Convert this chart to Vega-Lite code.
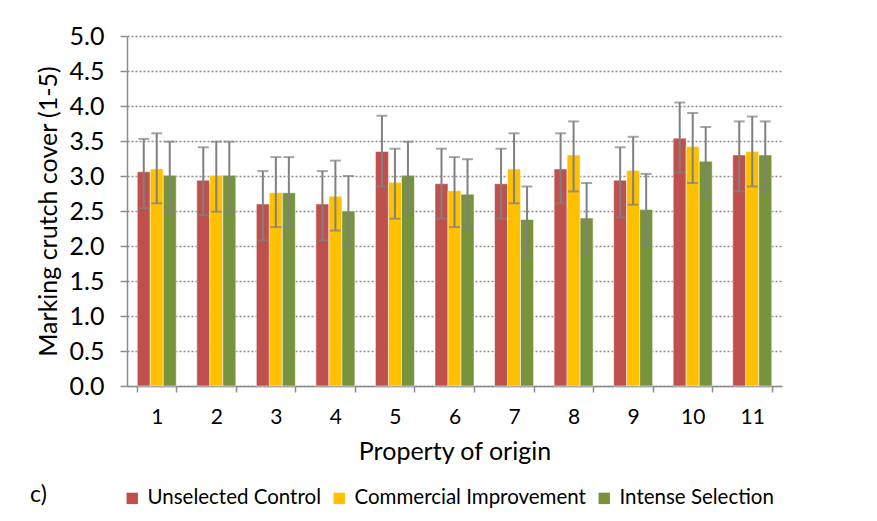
{
  "$schema": "https://vega.github.io/schema/vega-lite/v6.json",
  "autosize": {"type": "none"},
  "width": 655,
  "height": 350,
  "padding": {"left": 127, "top": 36, "right": 95, "bottom": 135},
  "background": "white",
  "title": {"text": "c)", "orient": "bottom", "anchor": "start", "frame": "bounds", "font": "Lato", "fontSize": 23, "fontWeight": "normal", "color": "#000000", "offset": -25, "dx": -6},
  "config": {
    "view": {"stroke": null},
    "font": "Lato"
  },
  "resolve": {"axis": {"y": "independent"}},
  "data": {
    "values": [
      {"prop": "1", "group": "Unselected Control", "mean": 3.06, "lo": 2.54, "hi": 3.53},
      {"prop": "1", "group": "Commercial Improvement", "mean": 3.10, "lo": 2.61, "hi": 3.61},
      {"prop": "1", "group": "Intense Selection", "mean": 3.01, "lo": 2.49, "hi": 3.49},
      {"prop": "2", "group": "Unselected Control", "mean": 2.94, "lo": 2.44, "hi": 3.41},
      {"prop": "2", "group": "Commercial Improvement", "mean": 3.01, "lo": 2.49, "hi": 3.49},
      {"prop": "2", "group": "Intense Selection", "mean": 3.01, "lo": 2.49, "hi": 3.49},
      {"prop": "3", "group": "Unselected Control", "mean": 2.60, "lo": 2.08, "hi": 3.07},
      {"prop": "3", "group": "Commercial Improvement", "mean": 2.76, "lo": 2.27, "hi": 3.27},
      {"prop": "3", "group": "Intense Selection", "mean": 2.76, "lo": 2.27, "hi": 3.27},
      {"prop": "4", "group": "Unselected Control", "mean": 2.60, "lo": 2.08, "hi": 3.07},
      {"prop": "4", "group": "Commercial Improvement", "mean": 2.71, "lo": 2.22, "hi": 3.22},
      {"prop": "4", "group": "Intense Selection", "mean": 2.50, "lo": 2.00, "hi": 3.00},
      {"prop": "5", "group": "Unselected Control", "mean": 3.35, "lo": 2.85, "hi": 3.86},
      {"prop": "5", "group": "Commercial Improvement", "mean": 2.91, "lo": 2.39, "hi": 3.39},
      {"prop": "5", "group": "Intense Selection", "mean": 3.01, "lo": 2.49, "hi": 3.49},
      {"prop": "6", "group": "Unselected Control", "mean": 2.89, "lo": 2.39, "hi": 3.39},
      {"prop": "6", "group": "Commercial Improvement", "mean": 2.79, "lo": 2.27, "hi": 3.27},
      {"prop": "6", "group": "Intense Selection", "mean": 2.74, "lo": 2.25, "hi": 3.24},
      {"prop": "7", "group": "Unselected Control", "mean": 2.89, "lo": 2.39, "hi": 3.39},
      {"prop": "7", "group": "Commercial Improvement", "mean": 3.10, "lo": 2.61, "hi": 3.61},
      {"prop": "7", "group": "Intense Selection", "mean": 2.38, "lo": 1.86, "hi": 2.85},
      {"prop": "8", "group": "Unselected Control", "mean": 3.10, "lo": 2.61, "hi": 3.61},
      {"prop": "8", "group": "Commercial Improvement", "mean": 3.30, "lo": 2.78, "hi": 3.78},
      {"prop": "8", "group": "Intense Selection", "mean": 2.40, "lo": 1.90, "hi": 2.90},
      {"prop": "9", "group": "Unselected Control", "mean": 2.94, "lo": 2.41, "hi": 3.41},
      {"prop": "9", "group": "Commercial Improvement", "mean": 3.08, "lo": 2.59, "hi": 3.56},
      {"prop": "9", "group": "Intense Selection", "mean": 2.52, "lo": 2.02, "hi": 3.03},
      {"prop": "10", "group": "Unselected Control", "mean": 3.54, "lo": 3.05, "hi": 4.05},
      {"prop": "10", "group": "Commercial Improvement", "mean": 3.42, "lo": 2.90, "hi": 3.90},
      {"prop": "10", "group": "Intense Selection", "mean": 3.21, "lo": 2.70, "hi": 3.70},
      {"prop": "11", "group": "Unselected Control", "mean": 3.30, "lo": 2.78, "hi": 3.78},
      {"prop": "11", "group": "Commercial Improvement", "mean": 3.35, "lo": 2.85, "hi": 3.85},
      {"prop": "11", "group": "Intense Selection", "mean": 3.30, "lo": 2.78, "hi": 3.78}
    ]
  },
  "encoding": {
    "x": {
      "field": "prop", "type": "nominal", "sort": null,
      "scale": {"paddingInner": 0.345, "paddingOuter": 0.172},
      "axis": {
        "title": "Property of origin", "titleFontSize": 25, "titleFontWeight": "normal", "titleColor": "#000000", "titlePadding": 12,
        "labelAngle": 0, "labelFontSize": 21, "labelColor": "#000000", "labelPadding": 14,
        "tickBand": "extent", "tickSize": 6, "tickColor": "#8c8c8c", "tickWidth": 1.5,
        "domainColor": "#8c8c8c", "domainWidth": 1.5, "grid": false
      }
    },
    "xOffset": {"field": "group", "type": "nominal", "sort": ["Unselected Control", "Commercial Improvement", "Intense Selection"], "scale": {"paddingInner": 0, "paddingOuter": 0}}
  },
  "layer": [
    {
      "mark": {"type": "bar", "stroke": "#ffffff", "strokeOpacity": 0.5, "strokeWidth": 1},
      "encoding": {
        "y": {
          "field": "mean", "type": "quantitative",
          "scale": {"domain": [0, 5], "nice": false},
          "axis": {
            "title": "Marking crutch cover (1-5)", "titleFontSize": 25, "titleFontWeight": "normal", "titleColor": "#000000", "titlePadding": 8,
            "values": [0, 0.5, 1, 1.5, 2, 2.5, 3, 3.5, 4, 4.5, 5], "format": ".1f", "labelOverlap": false,
            "labelFontSize": 25, "labelColor": "#000000", "labelPadding": 16,
            "tickSize": 7, "tickColor": "#8c8c8c", "tickWidth": 1.5,
            "domainColor": "#8c8c8c", "domainWidth": 1.5,
            "grid": true, "gridDash": [2, 2], "gridColor": "#8c8c8c", "gridWidth": 1.5
          }
        },
        "color": {
          "field": "group", "type": "nominal",
          "sort": ["Unselected Control", "Commercial Improvement", "Intense Selection"],
          "scale": {"domain": ["Unselected Control", "Commercial Improvement", "Intense Selection"], "range": ["#C0504D", "#FFC000", "#77933C"]},
          "legend": {
            "title": null, "orient": "none", "legendX": -5, "legendY": 452, "direction": "horizontal",
            "symbolType": "square", "symbolSize": 130, "symbolStrokeWidth": 0,
            "labelFontSize": 20.5, "labelColor": "#000000", "labelOffset": 5, "columnPadding": 8, "labelLimit": 0
          }
        }
      }
    },
    {
      "mark": {"type": "rule", "color": "#808080", "strokeWidth": 2},
      "encoding": {
        "y": {"field": "lo", "type": "quantitative", "axis": null},
        "y2": {"field": "hi"}
      }
    },
    {
      "mark": {"type": "tick", "color": "#808080", "thickness": 2, "size": 11},
      "encoding": {"y": {"field": "lo", "type": "quantitative", "axis": null}}
    },
    {
      "mark": {"type": "tick", "color": "#808080", "thickness": 2, "size": 11},
      "encoding": {"y": {"field": "hi", "type": "quantitative", "axis": null}}
    }
  ]
}
